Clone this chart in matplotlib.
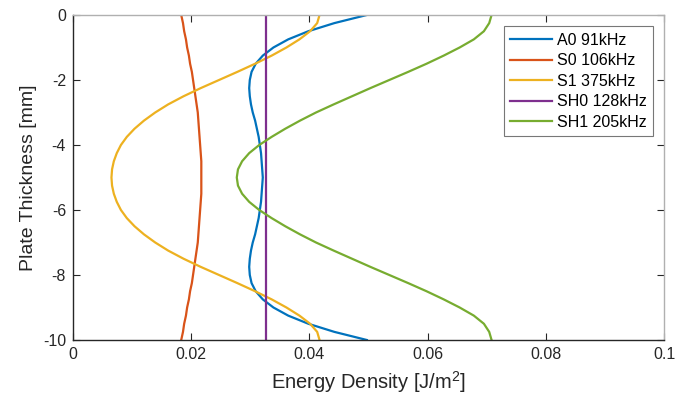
import numpy as np
import matplotlib
matplotlib.use("Agg")
import matplotlib.pyplot as plt

plt.rcParams['font.family'] = ['Liberation Sans', 'DejaVu Sans']
plt.rcParams['axes.unicode_minus'] = False
plt.rcParams['mathtext.fontset'] = 'custom'
plt.rcParams['mathtext.rm'] = 'Liberation Sans'

# plate depth samples [mm], top surface to bottom surface
thickness = np.linspace(0, -10, 41)

# energy density [J/m^2]
a0_91k = [0.0497, 0.0442, 0.0398, 0.0364, 0.0339, 0.0321, 0.0309, 0.0302, 0.0299, 0.0298,
          0.0299, 0.0301, 0.0304, 0.0308, 0.0311, 0.0314, 0.0316, 0.0318, 0.0319, 0.0320,
          0.0321,
          0.0320, 0.0319, 0.0318, 0.0316, 0.0314, 0.0311, 0.0308, 0.0304, 0.0301, 0.0299,
          0.0298, 0.0299, 0.0302, 0.0309, 0.0321, 0.0339, 0.0364, 0.0398, 0.0442, 0.0497]
s0_106k = [0.0183, 0.0186, 0.0188, 0.0191, 0.0193, 0.0196, 0.0198, 0.0201, 0.0203, 0.0205,
           0.0207, 0.0209, 0.0211, 0.0212, 0.0213, 0.0214, 0.0215, 0.0216, 0.0217, 0.0217,
           0.0217,
           0.0217, 0.0217, 0.0216, 0.0215, 0.0214, 0.0213, 0.0212, 0.0211, 0.0209, 0.0207,
           0.0205, 0.0203, 0.0201, 0.0198, 0.0196, 0.0193, 0.0191, 0.0188, 0.0186, 0.0183]
s1_375k = [0.0417, 0.0413, 0.0401, 0.0383, 0.0361, 0.0336, 0.0308, 0.0278, 0.0247, 0.0216,
           0.0187, 0.0161, 0.0139, 0.0120, 0.0104, 0.0091, 0.0081, 0.0074, 0.0069, 0.0066,
           0.0065,
           0.0066, 0.0069, 0.0074, 0.0081, 0.0091, 0.0104, 0.0120, 0.0139, 0.0161, 0.0187,
           0.0216, 0.0247, 0.0278, 0.0308, 0.0336, 0.0361, 0.0383, 0.0401, 0.0413, 0.0417]
sh0_128k = [0.0327] * 41
sh1_205k = [0.0708, 0.0704, 0.0695, 0.0678, 0.0654, 0.0627, 0.0598, 0.0567, 0.0535, 0.0503,
            0.0472, 0.0441, 0.0411, 0.0384, 0.0359, 0.0336, 0.0315, 0.0298, 0.0286, 0.0279,
            0.0277,
            0.0279, 0.0286, 0.0298, 0.0315, 0.0336, 0.0359, 0.0384, 0.0411, 0.0441, 0.0472,
            0.0503, 0.0535, 0.0567, 0.0598, 0.0627, 0.0654, 0.0678, 0.0695, 0.0704, 0.0708]

labels = ['A0 91kHz', 'S0 106kHz', 'S1 375kHz', 'SH0 128kHz', 'SH1 205kHz']
colors = ['#0072BD', '#D95319', '#EDB120', '#7E2F8E', '#77AC30']
series = [a0_91k, s0_106k, s1_375k, sh0_128k, sh1_205k]

xticks = [0, 0.02, 0.04, 0.06, 0.08, 0.1]
xticklabels = ['0', '0.02', '0.04', '0.06', '0.08', '0.1']
yticks = [0, -2, -4, -6, -8, -10]
yticklabels = ['0', '-2', '-4', '-6', '-8', '-10']

fig = plt.figure(figsize=(6.89, 4.05), dpi=100)
ax = fig.add_axes([0.106, 0.1605, 0.858, 0.8025])

for vals, col, lab in zip(series, colors, labels):
    ax.plot(vals, thickness, color=col, lw=1.6, label=lab)

ax.set_xlim(0, 0.1)
ax.set_ylim(-10, 0)
ax.set_xticks(xticks)
ax.set_xticklabels(xticklabels)
ax.set_yticks(yticks)
ax.set_yticklabels(yticklabels)

dark = '#262626'
for side in ['left', 'bottom']:
    ax.spines[side].set_color(dark)
for side in ['top', 'right']:
    ax.spines[side].set_color('#b0b0b0')
for sp in ax.spines.values():
    sp.set_linewidth(1.0)

ax.tick_params(direction='in', length=5, width=0.8, color=dark, labelcolor=dark,
               labelsize=11.5, top=True, right=True, pad=5)

ax.set_xlabel(r'Energy Density [J/m$^{\mathrm{2}}$]', fontsize=14.5, color=dark, labelpad=5)
ax.set_ylabel('Plate Thickness [mm]', fontsize=14, color=dark, labelpad=4)

leg = ax.legend(loc='upper right', bbox_to_anchor=(0.990, 0.98), fontsize=11.5,
                frameon=True, fancybox=False, handlelength=2.6, handletextpad=0.35,
                borderpad=0.4, labelspacing=0.35, borderaxespad=0.3)
leg.get_frame().set_edgecolor('#555555')
leg.get_frame().set_linewidth(0.8)

fig.savefig('out.png', dpi=100)
